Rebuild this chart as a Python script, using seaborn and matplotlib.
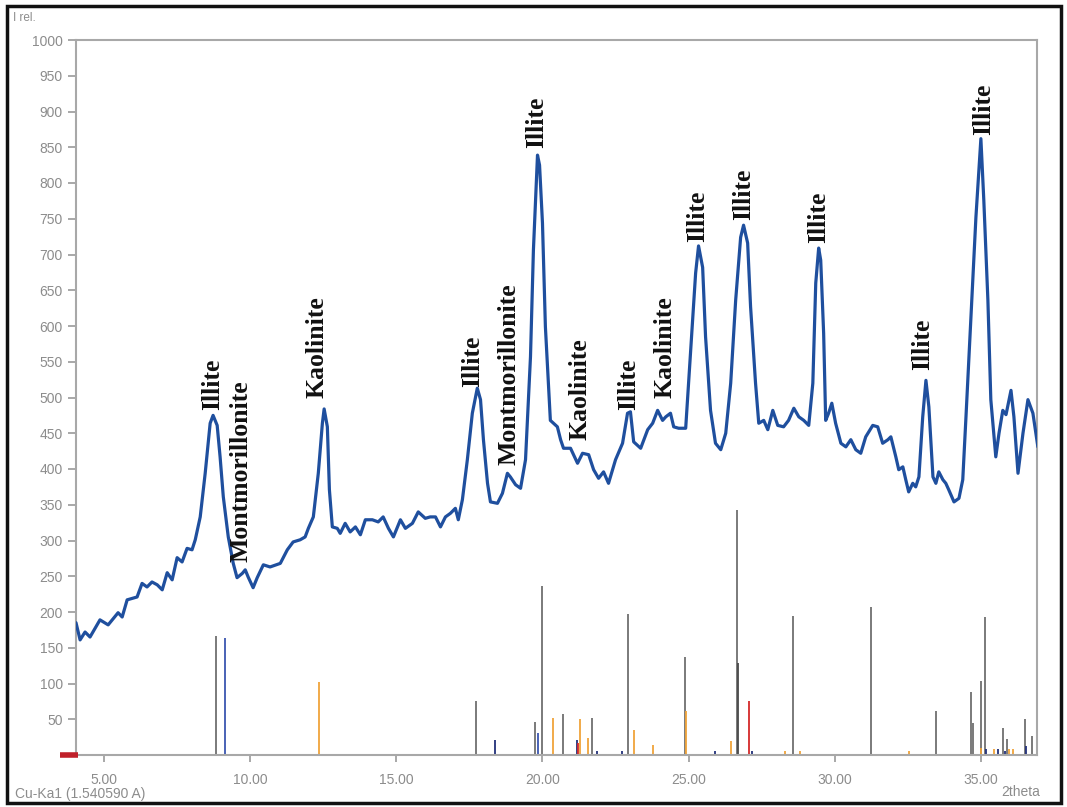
import matplotlib
matplotlib.use("Agg")
import matplotlib.pyplot as plt
import seaborn as sns
import pandas as pd
from matplotlib.patches import Rectangle

# ---- measured pattern (2theta, relative intensity) ----
two_theta = [4.04, 4.18, 4.35, 4.52, 4.86, 5.14, 5.48, 5.62, 5.79, 6.13, 6.30, 6.47, 6.64, 6.82,
             6.99, 7.16, 7.33, 7.50, 7.67, 7.84, 8.01, 8.12, 8.29, 8.46, 8.63, 8.73, 8.87, 8.97,
             9.08, 9.25, 9.42, 9.55, 9.73, 9.83, 9.93, 10.10, 10.24, 10.45, 10.68, 11.03, 11.27,
             11.47, 11.71, 11.88, 11.99, 12.16, 12.33, 12.47, 12.53, 12.64, 12.71, 12.81, 12.98,
             13.08, 13.25, 13.42, 13.60, 13.77, 13.94, 14.18, 14.38, 14.55, 14.73, 14.90, 15.14,
             15.31, 15.55, 15.75, 15.99, 16.16, 16.34, 16.51, 16.68, 16.85, 17.02, 17.12, 17.26,
             17.43, 17.60, 17.77, 17.88, 17.98, 18.12, 18.22, 18.46, 18.63, 18.80, 18.90, 19.08,
             19.25, 19.42, 19.59, 19.69, 19.83, 19.90, 20.00, 20.10, 20.27, 20.51, 20.62, 20.72,
             20.96, 21.20, 21.37, 21.58, 21.75, 21.92, 22.09, 22.26, 22.50, 22.74, 22.91, 23.01,
             23.12, 23.36, 23.60, 23.77, 23.94, 24.11, 24.22, 24.38, 24.49, 24.66, 24.90, 25.07,
             25.24, 25.34, 25.48, 25.58, 25.75, 25.92, 26.10, 26.27, 26.44, 26.61, 26.78, 26.88,
             27.02, 27.12, 27.29, 27.40, 27.57, 27.71, 27.88, 28.05, 28.25, 28.42, 28.60, 28.77,
             28.94, 29.11, 29.25, 29.35, 29.45, 29.52, 29.62, 29.69, 29.79, 29.90, 30.03, 30.21,
             30.38, 30.55, 30.72, 30.89, 31.06, 31.30, 31.47, 31.64, 31.82, 31.92, 32.09, 32.19,
             32.33, 32.43, 32.53, 32.67, 32.77, 32.88, 33.01, 33.12, 33.22, 33.36, 33.46, 33.56,
             33.70, 33.80, 33.90, 34.08, 34.25, 34.38, 34.49, 34.66, 34.83, 35.00, 35.10, 35.24,
             35.34, 35.51, 35.62, 35.75, 35.86, 36.03, 36.13, 36.27, 36.44, 36.61, 36.78, 36.95]
intensity = [185, 161, 172, 165, 189, 182, 199, 193, 217, 221, 240, 235, 242, 238,
             231, 255, 245, 276, 270, 289, 287, 301, 333, 394, 464, 475, 461, 417,
             361, 305, 268, 248, 254, 259, 249, 234, 248, 266, 263, 268, 287,
             298, 301, 305, 317, 333, 394, 464, 484, 459, 371, 319, 317,
             310, 324, 312, 319, 308, 329, 329, 326, 333, 317, 305, 329,
             317, 324, 340, 331, 333, 333, 319, 333, 338, 345, 329, 357,
             413, 478, 513, 497, 441, 380, 354, 352, 366, 394, 389, 378,
             373, 413, 557, 706, 839, 825, 744, 599, 468, 459, 441, 429,
             429, 408, 422, 420, 399, 387, 396, 380, 413, 436, 478, 480,
             438, 429, 455, 464, 482, 468, 473, 478, 459, 457, 457, 566,
             674, 712, 682, 585, 482, 436, 427, 450, 520, 636, 724, 741,
             716, 627, 520, 464, 468, 455, 482, 461, 459, 468, 485, 473,
             468, 461, 520, 660, 709, 692, 590, 468, 478, 492, 464, 436,
             431, 441, 427, 422, 445, 461, 459, 436, 441, 445, 417, 399,
             403, 385, 368, 380, 375, 389, 473, 524, 487, 389, 380, 396,
             385, 380, 371, 354, 359, 385, 473, 613, 752, 862, 776, 636,
             497, 417, 450, 482, 476, 510, 473, 394, 450, 497, 478, 431]

# ---- reference stick patterns ----
stick_pos = [8.82, 9.14, 12.37, 17.71, 18.36, 19.76, 19.85, 19.97, 20.36, 20.69, 21.18, 21.21,
             21.28, 21.55, 21.69, 21.87, 22.73, 22.92, 23.14, 23.78, 24.87, 24.92, 25.92, 26.44,
             26.64, 26.70, 27.07, 27.16, 27.69, 28.30, 28.57, 28.80, 31.23, 32.55, 33.46, 34.65,
             34.74, 35.00, 35.02, 35.15, 35.19, 35.45, 35.57, 35.74, 35.83, 35.89, 35.97, 36.11,
             36.52, 36.54, 36.76]
stick_height = [167, 163, 102, 75, 21, 46, 31, 236, 52, 57, 21, 17,
                50, 24, 52, 6, 6, 197, 35, 14, 137, 61, 6, 20,
                343, 128, 75, 5, 2, 5, 194, 5, 207, 6, 62, 88,
                45, 103, 10, 193, 8, 8, 8, 38, 6, 23, 9, 8,
                51, 13, 26]
stick_phase = ["gray", "blue", "orange", "gray", "navy", "gray", "blue", "gray", "orange", "gray", "navy", "red",
               "orange", "orange", "gray", "navy", "navy", "gray", "orange", "orange", "gray", "orange", "navy", "orange",
               "gray", "dark", "red", "navy", "gray", "orange", "gray", "orange", "gray", "orange", "gray", "gray",
               "gray", "gray", "orange", "gray", "navy", "orange", "navy", "gray", "navy", "gray", "orange", "orange",
               "gray", "navy", "gray"]
phase_colors = {"gray": "#6f6f6f", "dark": "#4a4a4a", "blue": "#3b56b0", "navy": "#22307a",
                "orange": "#f0a43a", "red": "#d42a2a"}

# ---- peak labels ----
label_text = ["Illite", "Montmorillonite", "Kaolinite", "Illite", "Montmorillonite", "Illite",
              "Kaolinite", "Illite", "Kaolinite", "Illite", "Illite", "Illite", "Illite", "Illite"]
label_x = [8.73, 9.69, 12.29, 17.60, 18.84, 19.79, 21.30, 22.95, 24.18, 25.31, 26.88, 29.45, 33.01, 35.10]
label_y = [482, 270, 499, 515, 406, 849, 441, 482, 499, 717, 748, 716, 538, 867]

x_ticks = [5, 10, 15, 20, 25, 30, 35]
y_ticks = list(range(50, 1001, 50))

sns.set_theme(style="white")
plt.rcParams["font.family"] = ["Liberation Sans", "DejaVu Sans"]

fig = plt.figure(figsize=(10.67, 8.07), dpi=100)
ax = fig.add_axes([76 / 1067, 1 - 755 / 807, (1037 - 76) / 1067, (755 - 40) / 807])

df = pd.DataFrame({"two_theta": two_theta, "intensity": intensity})
sns.lineplot(data=df, x="two_theta", y="intensity", ax=ax, color="#1f4f9e", linewidth=2.3,
             zorder=3, estimator=None, sort=False)

ax.vlines(stick_pos, 0, stick_height, colors=[phase_colors[p] for p in stick_phase],
          linewidth=1.3, zorder=2)

for t, x, y in zip(label_text, label_x, label_y):
    ax.text(x, y, t, rotation=90, ha="center", va="bottom", fontsize=18.5, fontweight="bold",
            family=["Liberation Serif", "DejaVu Serif"], color="#111111", zorder=4)

ax.set_xlim(4.04, 36.92)
ax.set_ylim(0, 1000)
ax.set_xticks(x_ticks)
ax.set_xticklabels([f"{v:.2f}" for v in x_ticks])
ax.set_yticks(y_ticks)
ax.set_yticklabels([str(v) for v in y_ticks])
ax.set_xlabel("")
ax.set_ylabel("")
ax.tick_params(axis="both", colors="#9a9a9a", labelcolor="#8c8c8c", labelsize=10,
               direction="out", length=6, width=1.2, bottom=True, left=True)
ax.tick_params(axis="x", length=5, pad=8)
for s in ax.spines.values():
    s.set_color("#a8a8a8")
    s.set_linewidth(1.5)

# red zero marker at axis origin
ax.plot([3.49, 4.11], [0, 0], color="#c0202a", linewidth=4, clip_on=False, zorder=5,
        solid_capstyle="butt")

fig.text(13 / 1067, 1 - 18 / 807, "I rel.", color="#8c8c8c", fontsize=8.5, va="center", ha="left")
fig.text(15 / 1067, 1 - 794 / 807, "Cu-Ka1 (1.540590 A)", color="#8c8c8c", fontsize=10,
         va="center", ha="left")
fig.text(1040 / 1067, 1 - 792 / 807, "2theta", color="#8c8c8c", fontsize=10, va="center", ha="right")

fig.patches.append(Rectangle((7 / 1067, 1 - 803 / 807), (1061 - 7) / 1067, (803 - 6) / 807,
                             transform=fig.transFigure, fill=False, edgecolor="#111111",
                             linewidth=2.5))

fig.savefig("out.png", dpi=100)
